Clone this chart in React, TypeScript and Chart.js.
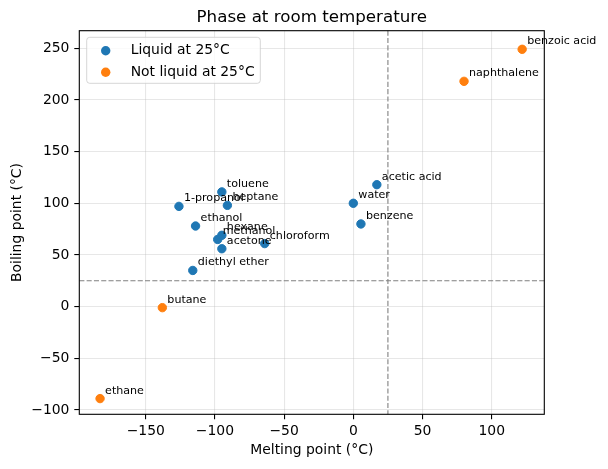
import React, { useEffect, useRef } from "react";
import { Chart, registerables } from "chart.js";

Chart.register(...registerables);

// Compounds that are liquid at room temperature
const liquidNames = [
  "water", "ethanol", "methanol", "acetone", "benzene", "toluene",
  "hexane", "heptane", "1-propanol", "acetic acid", "diethyl ether", "chloroform",
];
const liquidMelting = [0, -114, -98, -95, 5.5, -95, -95, -91, -126, 17, -116, -64];
const liquidBoiling = [100, 78, 65, 56, 80, 111, 69, 98, 97, 118, 35, 61];

// Compounds that are solid or gas at room temperature
const otherNames = ["butane", "ethane", "naphthalene", "benzoic acid"];
const otherMelting = [-138, -183, 80, 122];
const otherBoiling = [-1, -89, 218, 249];

const seriesLabels = ["Liquid at 25°C", "Not liquid at 25°C"];
const seriesColors = ["#1f77b4", "#ff7f0e"];

const roomTemp = 25;

const xTicks = [-150, -100, -50, 0, 50, 100];
const yTicks = [-100, -50, 0, 50, 100, 150, 200, 250];

const FONT = '"DejaVu Sans", "Liberation Sans", sans-serif';
const fmt = (v: number) => (v < 0 ? "\u2212" + Math.abs(v) : String(v));

const names = [liquidNames, otherNames];

const decorPlugin = {
  id: "decor",
  afterDatasetsDraw(chart: any) {
    const { ctx, chartArea: a, scales } = chart;
    const xs = scales.x;
    const ys = scales.y;

    // room-temperature threshold lines
    ctx.save();
    ctx.strokeStyle = "#808080";
    ctx.lineWidth = 1.1;
    ctx.setLineDash([5.1, 2.2]);
    const px = xs.getPixelForValue(roomTemp);
    const py = ys.getPixelForValue(roomTemp);
    ctx.beginPath();
    ctx.moveTo(px, a.top);
    ctx.lineTo(px, a.bottom);
    ctx.moveTo(a.left, py);
    ctx.lineTo(a.right, py);
    ctx.stroke();
    ctx.restore();

    // point annotations
    ctx.save();
    ctx.fillStyle = "#000";
    ctx.font = `11.1px ${FONT}`;
    ctx.textAlign = "left";
    ctx.textBaseline = "alphabetic";
    chart.data.datasets.forEach((_ds: any, i: number) => {
      const meta = chart.getDatasetMeta(i);
      meta.data.forEach((pt: any, j: number) => {
        ctx.fillText(names[i][j], pt.x + 5, pt.y - 5);
      });
    });
    ctx.restore();

    // axes frame
    ctx.save();
    ctx.strokeStyle = "#000";
    ctx.lineWidth = 1.1;
    ctx.strokeRect(a.left, a.top, a.right - a.left, a.bottom - a.top);
    ctx.restore();

    // legend
    ctx.save();
    const lx = a.left + 7.4;
    const ly = a.top + 6.6;
    const lw = 173.6;
    const lh = 46;
    ctx.beginPath();
    ctx.roundRect(lx, ly, lw, lh, 3);
    ctx.fillStyle = "rgba(255,255,255,0.8)";
    ctx.fill();
    ctx.strokeStyle = "rgba(204,204,204,0.8)";
    ctx.lineWidth = 1;
    ctx.stroke();
    ctx.font = `13.9px ${FONT}`;
    ctx.textBaseline = "middle";
    seriesLabels.forEach((label, i) => {
      const cy = ly + 13.4 + i * 21.6;
      ctx.beginPath();
      ctx.arc(lx + 19, cy, 4.7, 0, Math.PI * 2);
      ctx.fillStyle = seriesColors[i];
      ctx.fill();
      ctx.fillStyle = "#000";
      ctx.fillText(label, lx + 44, cy);
    });
    ctx.restore();

    // title and axis titles
    ctx.save();
    ctx.fillStyle = "#000";
    const cx = (a.left + a.right) / 2;
    ctx.textAlign = "center";
    ctx.font = `16.7px ${FONT}`;
    ctx.textBaseline = "alphabetic";
    ctx.fillText("Phase at room temperature", cx, a.top - 8.3);
    ctx.font = `13.9px ${FONT}`;
    ctx.textBaseline = "top";
    ctx.fillText("Melting point (°C)", cx, 443);
    ctx.translate(17.7, (a.top + a.bottom) / 2);
    ctx.rotate(-Math.PI / 2);
    ctx.textBaseline = "middle";
    ctx.fillText("Boiling point (°C)", 0, 0);
    ctx.restore();
  },
};

export default function App() {
  const canvasRef = useRef<HTMLCanvasElement | null>(null);

  useEffect(() => {
    const canvas = canvasRef.current;
    if (!canvas) return;

    const gridOpts = {
      color: "rgba(176,176,176,0.3)",
      lineWidth: 1.1,
      tickColor: "#000",
      tickLength: 5,
      tickWidth: 1.1,
    };
    const tickFont = { family: FONT, size: 13.9 };

    const chart = new Chart(canvas, {
      type: "scatter",
      data: {
        datasets: [
          {
            label: seriesLabels[0],
            data: liquidMelting.map((m, i) => ({ x: m, y: liquidBoiling[i] })),
            backgroundColor: seriesColors[0],
            borderColor: seriesColors[0],
            borderWidth: 1,
            pointRadius: 4.2,
          },
          {
            label: seriesLabels[1],
            data: otherMelting.map((m, i) => ({ x: m, y: otherBoiling[i] })),
            backgroundColor: seriesColors[1],
            borderColor: seriesColors[1],
            borderWidth: 1,
            pointRadius: 4.2,
          },
        ],
      },
      options: {
        responsive: false,
        animation: false,
        layout: { padding: { left: 0, top: 30.7, right: 63.7, bottom: 0 } },
        plugins: {
          legend: { display: false },
          title: { display: false },
          tooltip: { enabled: false },
        },
        scales: {
          x: {
            type: "linear",
            min: -198,
            max: 138,
            afterBuildTicks: (s: any) => {
              s.ticks = xTicks.map((v) => ({ value: v }));
            },
            afterFit: (s: any) => {
              s.height = 54.7;
            },
            grid: gridOpts,
            border: { display: false },
            ticks: {
              color: "#000",
              font: tickFont,
              padding: 4,
              maxRotation: 0,
              autoSkip: false,
              callback: (v: any) => fmt(Number(v)),
            },
          },
          y: {
            type: "linear",
            min: -104.2,
            max: 267,
            afterBuildTicks: (s: any) => {
              s.ticks = yTicks.map((v) => ({ value: v }));
            },
            afterFit: (s: any) => {
              s.width = 79.3;
            },
            grid: gridOpts,
            border: { display: false },
            ticks: {
              color: "#000",
              font: tickFont,
              padding: 4.9,
              autoSkip: false,
              callback: (v: any) => fmt(Number(v)),
            },
          },
        },
      },
      plugins: [decorPlugin],
    } as any);

    return () => chart.destroy();
  }, []);

  return (
    <div style={{ position: "absolute", left: 0, top: 0, width: 608, height: 469, background: "#fff" }}>
      <canvas ref={canvasRef} width={608} height={469} style={{ display: "block" }} />
    </div>
  );
}
